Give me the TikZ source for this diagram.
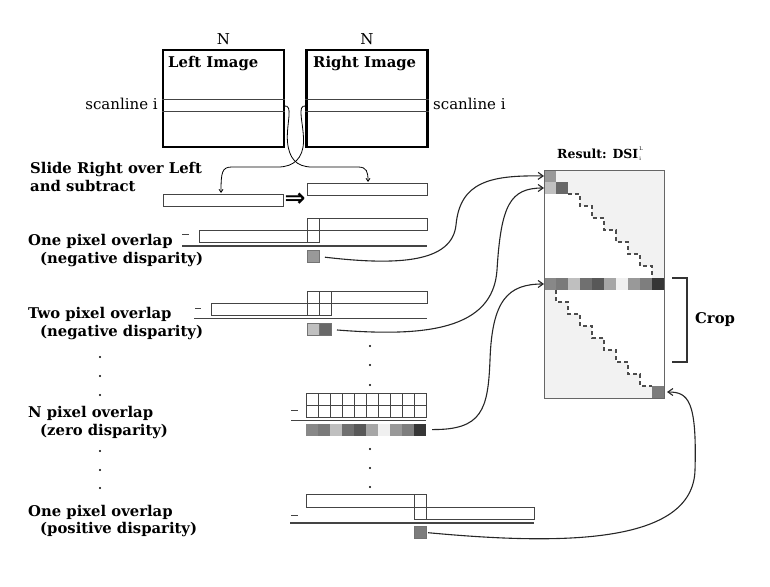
\documentclass[tikz,border=0pt]{standalone}
\usepackage{fontspec}
\setmainfont{DejaVu Serif}
\newfontfamily\symfont{DejaVu Sans}
\usetikzlibrary{arrows.meta}
\definecolor{ca}{HTML}{888888}
\definecolor{cb}{HTML}{7A7A7A}
\definecolor{cc}{HTML}{BFBFBF}
\definecolor{cd}{HTML}{707070}
\definecolor{ce}{HTML}{585858}
\definecolor{cf}{HTML}{A6A6A6}
\definecolor{cg}{HTML}{F0F0F0}
\definecolor{ch}{HTML}{999999}
\definecolor{ci}{HTML}{7E7E7E}
\definecolor{cj}{HTML}{363636}
\definecolor{csingle}{HTML}{999999}
\definecolor{clight}{HTML}{C0C0C0}
\definecolor{cdark}{HTML}{686868}
\definecolor{cpos}{HTML}{7C7C7C}
\definecolor{bgray}{HTML}{F2F2F2}
\definecolor{linec}{HTML}{444444}
\begin{document}
\begin{tikzpicture}[x=1pt,y=-1pt,
  lbl/.style={font=\fontsize{14.8}{17}\selectfont\bfseries, inner sep=0, anchor=base west},
  plain/.style={font=\fontsize{15}{17}\selectfont, inner sep=0},
  imgbox/.style={draw=black, line width=2.2pt, minimum width=121pt, minimum height=97pt, inner sep=0},
  bar/.style={draw=linec, line width=0.9pt},
  uline/.style={draw=linec, line width=1.3pt},
  cellst/.style={draw=black!55, line width=0.5pt, minimum width=12pt, minimum height=12pt, inner sep=0, outer sep=0},
  conn/.style={draw=black!85, line width=1.1pt, -{Straight Barb[length=5pt,width=7pt]}},
  feed/.style={draw=black, line width=0.8pt, -{Straight Barb[length=3pt,width=4pt]}},
  stair/.style={draw=black!70, line width=1.2pt, dash pattern=on 4pt off 3pt},
  dotst/.style={fill=black, circle, inner sep=0, minimum size=2.4pt}]
\useasboundingbox (0,0) rectangle (770,586);

% ---------- input images ----------
\node[imgbox] (L) at (223.5,98.5) {};
\node[imgbox] (R) at (367,98.5) {};
\draw[bar] (L.west |- 0,99) -- (L.east |- 0,99);
\draw[bar] (L.west |- 0,111) -- (L.east |- 0,111);
\draw[bar] (R.west |- 0,99) -- (R.east |- 0,99);
\draw[bar] (R.west |- 0,111) -- (R.east |- 0,111);
\node[lbl] (Lt) at (168,67) {Left Image};
\node[lbl] (Rt) at (313,67) {Right Image};
\node[plain, anchor=base] (NL) at (223.5,45) {N};
\node[plain, anchor=base] (NR) at (367,45) {N};
\node[plain, anchor=base east] (sl) at (158,109) {scanline i};
\node[plain, anchor=base west] (sr) at (433,109) {scanline i};

% ---------- slide rows ----------
\coordinate (Ls) at (284,106);
\coordinate (Rs) at (306,106);
\coordinate (Ltgt) at (221,193);
\coordinate (Rtgt) at (368,182);
\draw[feed] (Ls) .. controls (294,104) and (286,124) .. (287.5,142) .. controls (289,158) and (296,167) .. (312,167) -- (358,167) .. controls (367,167) and (368,172) .. (Rtgt);
\draw[feed] (Rs) .. controls (296,104) and (304,124) .. (303.5,142) .. controls (303,158) and (294,167) .. (278,167) -- (232,167) .. controls (222,167) and (221,172) .. (Ltgt);

\draw[bar] (163,194) rectangle (283,206);
\draw[bar] (307,183) rectangle (427,195);
\node[font=\symfont\fontsize{25}{25}\selectfont\bfseries, inner sep=0] (dbl) at (295,200) {⇒};

% one pixel overlap (negative)
\draw[bar] (307,218) rectangle (427,230);
\draw[bar] (199,230) rectangle (319,242);
\draw[bar] (319,218) -- (319,230);
\draw[bar] (307,230) -- (307,242);
\draw[uline] (182,246) -- (427,246);
\draw[bar] (182,234) -- (189,234);
\node[cellst, fill=csingle] (r1) at (313,256.5) {};

% two pixel overlap (negative)
\draw[bar] (307,291) rectangle (427,303);
\draw[bar] (211,303) rectangle (331,315);
\draw[bar] (319,291) -- (319,315);
\draw[bar] (331,291) -- (331,303);
\draw[bar] (307,303) -- (307,315);
\draw[uline] (194,318.5) -- (427,318.5);
\draw[bar] (195,308) -- (201,308);
\node[cellst, fill=clight] (r2a) at (313,329.5) {};
\node[cellst, fill=cdark] (r2b) at (325,329.5) {};

% N pixel overlap (zero)
\draw[bar] (306,393) rectangle (426,417);
\draw[bar] (306,405) -- (426,405);
\foreach \k in {1,...,9} \draw[bar] (306+12*\k,393) -- (306+12*\k,417);
\draw[uline] (291,420.5) -- (426,420.5);
\draw[bar] (291,410) -- (298,410);
\foreach \k/\c in {0/ca,1/cb,2/cc,3/cd,4/ce,5/cf,6/cg,7/ch,8/ci,9/cj}
  \node[cellst, draw=none, fill=\c] (n\k) at (312+12*\k,429.5) {};

% one pixel overlap (positive)
\draw[bar] (306,494) rectangle (426,507);
\draw[bar] (414,507) rectangle (534,519);
\draw[bar] (414,494) -- (414,507);
\draw[bar] (426,507) -- (426,519);
\draw[uline] (290,523) -- (534,523);
\draw[bar] (291,515) -- (298,515);
\node[cellst, fill=cpos] (rp) at (420,532.5) {};

% vertical dots (middle)
\foreach \y [count=\i] in {346,365,385,449,468,487}
  \node[dotst, minimum size=2.2pt] (md\i) at (370,\y) {};

% ---------- left labels ----------
\node[lbl] (t1) at (30,173) {Slide Right over Left};
\node[lbl] (t2) at (30,191) {and subtract};
\node[lbl] (t3) at (28,245) {One pixel overlap};
\node[lbl] (t4) at (40,263) {(negative disparity)};
\node[lbl] (t5) at (28,318) {Two pixel overlap};
\node[lbl] (t6) at (40,336) {(negative disparity)};
\node[lbl] (t7) at (28,417) {N pixel overlap};
\node[lbl] (t8) at (40,435) {(zero disparity)};
\node[lbl] (t9) at (28,516) {One pixel overlap};
\node[lbl] (t10) at (40,533) {(positive disparity)};
\foreach \y [count=\i] in {357,376,395,451,470,488}
  \node[dotst] (ld\i) at (100,\y) {};

% ---------- DSI ----------
\fill[bgray] (544,170) rectangle (664,398);
\fill[white] (544,194) -- (580,194) -- (580,206) -- (592,206) -- (592,218) -- (604,218) -- (604,230) -- (616,230) -- (616,242) -- (628,242) -- (628,254) -- (640,254) -- (640,266) -- (652,266) -- (652,278) -- (544,278) -- cycle;
\fill[white] (556,290) -- (556,302) -- (568,302) -- (568,314) -- (580,314) -- (580,326) -- (592,326) -- (592,338) -- (604,338) -- (604,350) -- (616,350) -- (616,362) -- (628,362) -- (628,374) -- (640,374) -- (640,386) -- (664,386) -- (664,290) -- cycle;
\draw[stair] (568,194) -- (580,194) -- (580,206) -- (592,206) -- (592,218) -- (604,218) -- (604,230) -- (616,230) -- (616,242) -- (628,242) -- (628,254) -- (640,254) -- (640,266) -- (652,266) -- (652,278);
\draw[stair] (556,290) -- (556,302) -- (568,302) -- (568,314) -- (580,314) -- (580,326) -- (592,326) -- (592,338) -- (604,338) -- (604,350) -- (616,350) -- (616,362) -- (628,362) -- (628,374) -- (640,374) -- (640,386) -- (652,386);
\node[cellst, draw=none, fill=csingle] (d0) at (550,176) {};
\node[cellst, draw=none, fill=clight] (d1) at (550,188) {};
\node[cellst, draw=none, fill=cdark] (d1b) at (562,188) {};
\foreach \k/\c in {0/ca,1/cb,2/cc,3/cd,4/ce,5/cf,6/cg,7/ch,8/ci,9/cj}
  \node[cellst, draw=none, fill=\c] (m\k) at (550+12*\k,284) {};
\node[cellst, draw=none, fill=cpos] (dB) at (658,392) {};
\node[draw=black!60, line width=0.9pt, minimum width=120pt, minimum height=228pt, inner sep=0] (dsi) at (604,284) {};

\node[lbl, font=\fontsize{12.5}{14}\selectfont\bfseries] (res) at (557,158)
  {Result: DSI\kern1pt\rlap{\raisebox{7.5pt}{\mdseries\fontsize{5}{5}\selectfont L}}\raisebox{-2.5pt}{\mdseries\fontsize{5}{5}\selectfont i}};

% crop bracket
\coordinate (cr1) at (672,278);
\coordinate (cr2) at (672,362);
\draw[line width=1.3pt, draw=black!80] (cr1) -- (687,278) -- (687,362) -- (cr2);
\node[lbl, anchor=base west] (crop) at (695,323) {Crop};

% ---------- connectors ----------
\draw[conn, shorten <=6pt] (r1.east) .. controls (400,266) and (452,262) .. (456,225) .. controls (460,182) and (490,175) .. (d0.west);
\draw[conn, shorten <=6pt] (r2b.east) .. controls (425,337) and (493,330) .. (497,270) .. controls (501,205) and (510,188) .. (d1.west);
\draw[conn, shorten <=6pt] (n9.east) .. controls (482,430) and (488,410) .. (490,360) .. controls (492,300) and (508,284) .. (m0.west);
\draw[conn, shorten <=2pt, shorten >=3pt] (rp.east) .. controls (560,545) and (693,545) .. (695,470) .. controls (697,400) and (688,392) .. (dB.east);
\end{tikzpicture}
\end{document}
